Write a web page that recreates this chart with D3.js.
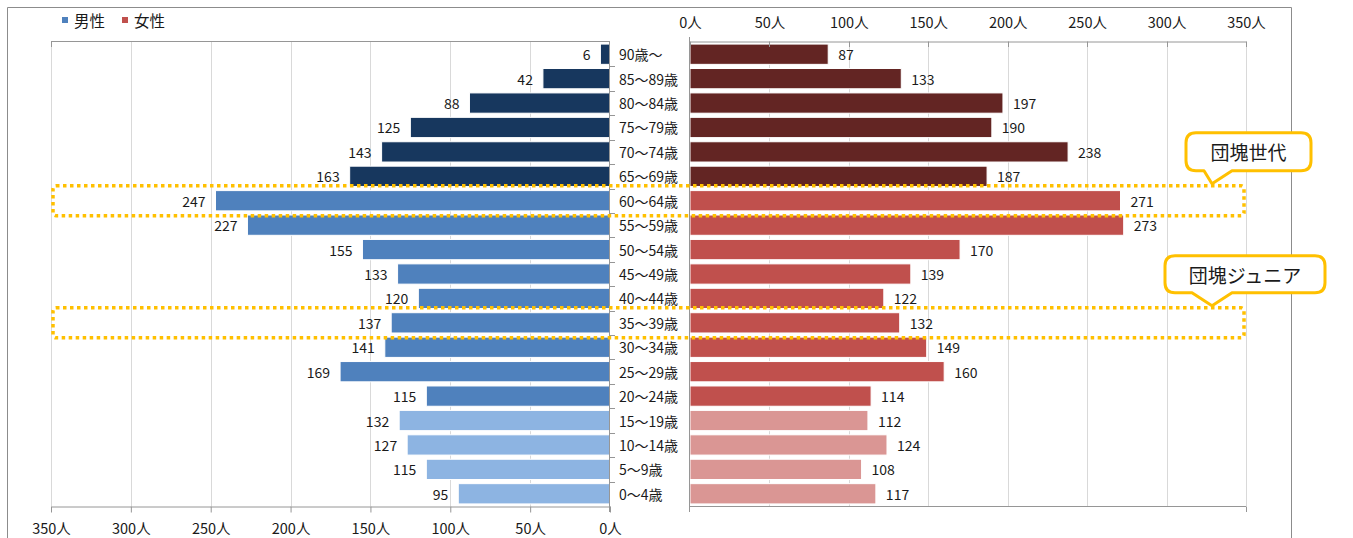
<!DOCTYPE html>
<html>
<head>
<meta charset="utf-8">
<script src="https://cdn.jsdelivr.net/npm/d3@7"></script>
<style>
  html, body { margin: 0; padding: 0; background: #fff; }
  svg { display: block; font-family: "Noto Sans CJK JP", "Noto Sans", sans-serif; }
</style>
</head>
<body>
<svg id="chart" width="1353" height="538"></svg>
<script>
// Age groups, top (oldest) to bottom (youngest)
const categories = ["90歳～","85～89歳","80～84歳","75～79歳","70～74歳","65～69歳","60～64歳","55～59歳","50～54歳","45～49歳","40～44歳","35～39歳","30～34歳","25～29歳","20～24歳","15～19歳","10～14歳","5～9歳","0～4歳"];
const male   = [6, 42, 88, 125, 143, 163, 247, 227, 155, 133, 120, 137, 141, 169, 115, 132, 127, 115, 95];
const female = [87, 133, 197, 190, 238, 187, 271, 273, 170, 139, 122, 132, 149, 160, 114, 112, 124, 108, 117];
const tickValues = [0, 50, 100, 150, 200, 250, 300, 350];
const seriesNames = ["男性", "女性"];
const highlights = [
  { category: "60～64歳", label: "団塊世代" },
  { category: "35～39歳", label: "団塊ジュニア" }
];

// Colour by age bracket: 65+ / 20–64 / under 20
const maleColors   = { old: "#17375E", mid: "#4F81BD", young: "#8DB4E2" };
const femaleColors = { old: "#632523", mid: "#C0504D", young: "#DA9694" };
function bracket(i) { return i <= 5 ? "old" : (i <= 14 ? "mid" : "young"); }

const svg = d3.select("#chart");
const plotTop = 42, plotBottom = 506;

const xM = d3.scaleLinear().domain([0, 350]).range([610, 51]);
const xF = d3.scaleLinear().domain([0, 350]).range([690, 1246]);
const y = d3.scaleBand().domain(categories).range([plotTop, plotBottom]).paddingInner(0.17).paddingOuter(0.085);

// Outer frame
svg.append("path")
  .attr("d", "M7.5,540 V7.5 H1291.5 V540")
  .attr("fill", "none").attr("stroke", "#8c8c8c").attr("stroke-width", 1);

// Gridlines
svg.append("g").selectAll("line").data(tickValues.slice(1)).join("line")
  .attr("x1", d => Math.round(xM(d)) + 0.5).attr("x2", d => Math.round(xM(d)) + 0.5)
  .attr("y1", plotTop).attr("y2", plotBottom)
  .attr("stroke", "#d9d9d9");
svg.append("g").selectAll("line").data(tickValues.slice(1)).join("line")
  .attr("x1", d => Math.round(xF(d)) + 0.5).attr("x2", d => Math.round(xF(d)) + 0.5)
  .attr("y1", plotTop).attr("y2", plotBottom)
  .attr("stroke", "#d9d9d9");

// Male bars
svg.append("g").selectAll("rect").data(male).join("rect")
  .attr("x", d => xM(d)).attr("width", d => xM(0) - xM(d))
  .attr("y", (d, i) => y(categories[i])).attr("height", y.bandwidth())
  .attr("fill", (d, i) => maleColors[bracket(i)])
  .attr("stroke", "#fff").attr("stroke-width", 1);

// Female bars
svg.append("g").selectAll("rect").data(female).join("rect")
  .attr("x", xF(0)).attr("width", d => xF(d) - xF(0))
  .attr("y", (d, i) => y(categories[i])).attr("height", y.bandwidth())
  .attr("fill", (d, i) => femaleColors[bracket(i)])
  .attr("stroke", "#fff").attr("stroke-width", 1);

// Value labels
svg.append("g").selectAll("text").data(male).join("text")
  .attr("x", d => xM(d) - 10).attr("y", (d, i) => y(categories[i]) + y.bandwidth() / 2)
  .attr("text-anchor", "end").attr("dominant-baseline", "central")
  .attr("font-size", 14).attr("fill", "#1a1a1a")
  .text(d => d);
svg.append("g").selectAll("text").data(female).join("text")
  .attr("x", d => xF(d) + 10).attr("y", (d, i) => y(categories[i]) + y.bandwidth() / 2)
  .attr("text-anchor", "start").attr("dominant-baseline", "central")
  .attr("font-size", 14).attr("fill", "#1a1a1a")
  .text(d => d);

// Category labels between the two halves
svg.append("g").selectAll("text").data(categories).join("text")
  .attr("x", 619).attr("y", d => y(d) + y.bandwidth() / 2)
  .attr("dominant-baseline", "central")
  .attr("font-size", 14).attr("fill", "#1a1a1a")
  .text(d => d);

// Value axes: male at bottom, female at top
const fmt = d => d + "人";
const axM = svg.append("g").attr("transform", `translate(0,${plotBottom + 0.5})`)
  .call(d3.axisBottom(xM).tickValues(tickValues).tickFormat(fmt).tickSize(6).tickSizeOuter(0).tickPadding(11));
const axF = svg.append("g").attr("transform", `translate(0,${plotTop - 0.5})`)
  .call(d3.axisTop(xF).tickValues(tickValues).tickFormat(fmt).tickSize(0).tickSizeOuter(0).tickPadding(14));
[axM, axF].forEach(ax => {
  ax.select(".domain").attr("stroke", "#969696");
  ax.selectAll(".tick line").attr("stroke", "#969696");
  ax.selectAll(".tick text").attr("font-size", 14.5).attr("fill", "#1a1a1a")
    .attr("font-family", "\"Noto Sans CJK JP\", sans-serif");
});
// inward ticks on the female top line
svg.append("g").selectAll("line").data(tickValues).join("line")
  .attr("x1", d => Math.round(xF(d)) + 0.5).attr("x2", d => Math.round(xF(d)) + 0.5)
  .attr("y1", plotTop - 0.5).attr("y2", plotTop + 5).attr("stroke", "#969696");

// Plot-area edges not covered by the axes
svg.append("line").attr("x1", xM(350)).attr("x2", xM(0)).attr("y1", plotTop - 0.5).attr("y2", plotTop - 0.5).attr("stroke", "#969696");
svg.append("line").attr("x1", xM(350) + 0.5).attr("x2", xM(350) + 0.5).attr("y1", plotTop - 0.5).attr("y2", plotTop + 5).attr("stroke", "#969696");
svg.append("line").attr("x1", xF(0)).attr("x2", xF(350)).attr("y1", plotBottom + 0.5).attr("y2", plotBottom + 0.5).attr("stroke", "#969696");
svg.append("line").attr("x1", xF(350) + 0.5).attr("x2", xF(350) + 0.5).attr("y1", plotBottom + 0.5).attr("y2", plotBottom + 6).attr("stroke", "#969696");

// Category axis lines with band ticks
svg.append("line").attr("x1", xM(0) - 0.5).attr("x2", xM(0) - 0.5).attr("y1", plotTop).attr("y2", plotBottom + 6).attr("stroke", "#969696");
svg.append("line").attr("x1", xF(0) - 0.5).attr("x2", xF(0) - 0.5).attr("y1", plotTop - 5).attr("y2", plotBottom + 6).attr("stroke", "#969696");
const boundaries = categories.map(c => y(c) - y.step() * y.paddingInner() / 2).slice(1);
svg.append("g").selectAll("line").data(boundaries).join("line")
  .attr("x1", xM(0) - 0.5).attr("x2", xM(0) + 5)
  .attr("y1", d => Math.round(d) + 0.5).attr("y2", d => Math.round(d) + 0.5)
  .attr("stroke", "#969696");

// Legend
const legend = svg.append("g").attr("transform", "translate(62,20)");
[maleColors.mid, femaleColors.mid].forEach((c, i) => {
  const g = legend.append("g").attr("transform", `translate(${i * 60},0)`);
  g.append("rect").attr("x", 0).attr("y", -3).attr("width", 6).attr("height", 6).attr("fill", c);
  g.append("text").attr("x", 12).attr("y", 0).attr("dominant-baseline", "central")
    .attr("font-size", 15.5).attr("fill", "#1a1a1a").text(seriesNames[i]);
});

// Highlighted generations: dotted frames and callouts
const orange = "#FFC000";
highlights.forEach((h, k) => {
  const cy = y(h.category) + y.bandwidth() / 2;
  svg.append("rect")
    .attr("x", 53).attr("y", cy - 15).attr("width", 1191).attr("height", 30)
    .attr("rx", 3).attr("fill", "none")
    .attr("stroke", orange).attr("stroke-width", 3.5).attr("stroke-dasharray", "3.5 3.5");

  const box = k === 0
    ? { x0: 1186, x1: 1311, y0: cy - 68, y1: cy - 30, p0: 1204, p1: 1232, tip: 1212 }
    : { x0: 1165, x1: 1325, y0: cy - 67, y1: cy - 30, p0: 1192, p1: 1232, tip: 1212 };
  const r = 10;
  const path = d3.path();
  path.moveTo(box.x0 + r, box.y0);
  path.lineTo(box.x1 - r, box.y0);
  path.quadraticCurveTo(box.x1, box.y0, box.x1, box.y0 + r);
  path.lineTo(box.x1, box.y1 - r);
  path.quadraticCurveTo(box.x1, box.y1, box.x1 - r, box.y1);
  path.lineTo(box.p1, box.y1);
  path.lineTo(box.tip, cy - 17);
  path.lineTo(box.p0, box.y1);
  path.lineTo(box.x0 + r, box.y1);
  path.quadraticCurveTo(box.x0, box.y1, box.x0, box.y1 - r);
  path.lineTo(box.x0, box.y0 + r);
  path.quadraticCurveTo(box.x0, box.y0, box.x0 + r, box.y0);
  path.closePath();
  svg.append("path").attr("d", path.toString())
    .attr("fill", "#fff").attr("stroke", orange).attr("stroke-width", 3).attr("stroke-linejoin", "round");
  svg.append("text")
    .attr("x", (box.x0 + box.x1) / 2).attr("y", (box.y0 + box.y1) / 2)
    .attr("text-anchor", "middle").attr("dominant-baseline", "central")
    .attr("font-size", 19).attr("fill", "#1a1a1a").text(h.label);
});
</script>
</body>
</html>
